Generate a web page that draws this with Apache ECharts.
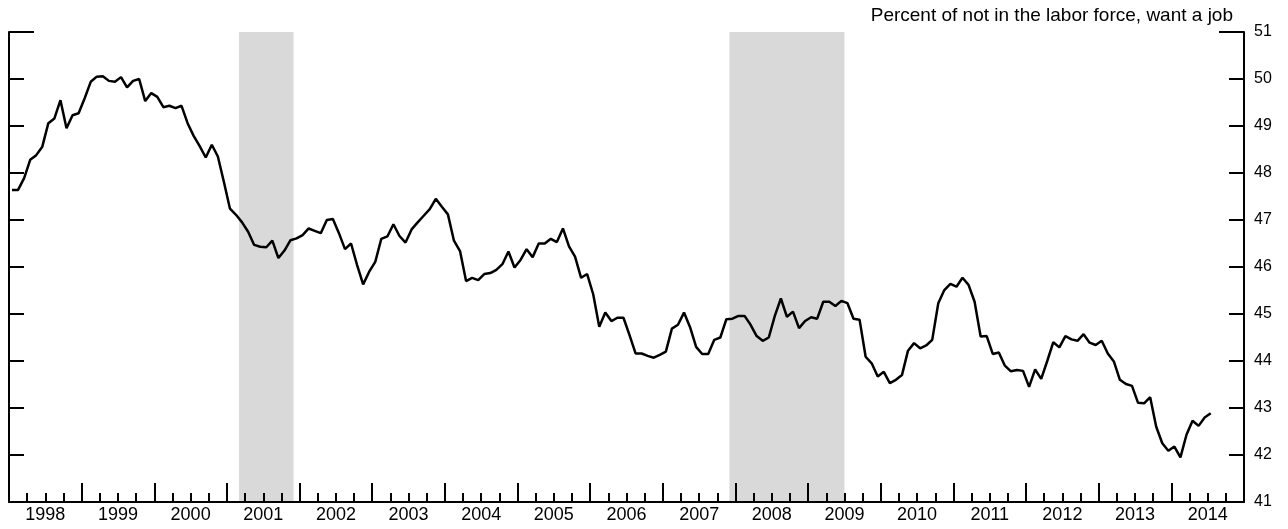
<!DOCTYPE html>
<html>
<head>
<meta charset="utf-8">
<script src="https://cdn.jsdelivr.net/npm/echarts@6/dist/echarts.min.js"></script>
<style>
html, body { margin: 0; padding: 0; background: #fff; }
#chart { width: 1288px; height: 529px; }
</style>
</head>
<body>
<div id="chart"></div>
<script>
// monthly, Jan 1998 .. Jul 2014
var startYear = 1998;
var wantJob = [
  47.64, 47.64, 47.89, 48.28, 48.38, 48.56, 49.06, 49.16, 49.55, 48.95, 49.23, 49.27,
  49.59, 49.94, 50.05, 50.06, 49.96, 49.94, 50.04, 49.82, 49.96, 50.00, 49.53, 49.70,
  49.62, 49.40, 49.43, 49.38, 49.43, 49.06, 48.79, 48.57, 48.33, 48.60, 48.35, 47.81,
  47.24, 47.11, 46.95, 46.75, 46.47, 46.43, 46.42, 46.56, 46.19, 46.35, 46.57, 46.61,
  46.68, 46.82, 46.77, 46.72, 47.00, 47.02, 46.72, 46.38, 46.50, 46.04, 45.63, 45.90,
  46.11, 46.60, 46.65, 46.91, 46.66, 46.52, 46.80, 46.95, 47.09, 47.23, 47.45, 47.28,
  47.12, 46.56, 46.34, 45.70, 45.77, 45.72, 45.85, 45.87, 45.94, 46.06, 46.33, 45.99,
  46.15, 46.38, 46.21, 46.50, 46.50, 46.60, 46.53, 46.82, 46.44, 46.22, 45.77, 45.85,
  45.42, 44.73, 45.03, 44.85, 44.92, 44.92, 44.55, 44.16, 44.16, 44.11, 44.07, 44.13,
  44.20, 44.69, 44.77, 45.03, 44.72, 44.30, 44.15, 44.15, 44.45, 44.50, 44.89, 44.90,
  44.96, 44.96, 44.77, 44.53, 44.43, 44.50, 44.96, 45.33, 44.94, 45.05, 44.70, 44.85,
  44.93, 44.90, 45.26, 45.26, 45.17, 45.28, 45.23, 44.90, 44.88, 44.09, 43.95, 43.67,
  43.77, 43.53, 43.60, 43.70, 44.22, 44.38, 44.27, 44.33, 44.45, 45.23, 45.51, 45.64,
  45.58, 45.77, 45.62, 45.26, 44.52, 44.53, 44.15, 44.18, 43.90, 43.78, 43.81, 43.79,
  43.45, 43.82, 43.62, 44.00, 44.40, 44.29, 44.53, 44.46, 44.43, 44.57, 44.39, 44.34,
  44.43, 44.16, 43.99, 43.60, 43.51, 43.47, 43.11, 43.10, 43.23, 42.60, 42.25, 42.09,
  42.18, 41.95, 42.43, 42.73, 42.62, 42.80, 42.89
];
var yearLabels = ['1998','1999','2000','2001','2002','2003','2004','2005','2006','2007','2008','2009','2010','2011','2012','2013','2014'];
// recessions as [start year, start month (1-12), end year, end month]
var recessions = [
  [2001, 3, 2001, 11],
  [2007, 12, 2009, 6]
];
var yMin = 41, yMax = 51;
var unitLabel = 'Percent of not in the labor force, want a job';

var font = "'Liberation Sans', Arial, Helvetica, sans-serif";

var seriesData = wantJob.map(function (v, i) {
  return [startYear + (i + 0.5) / 12, v];
});
var bands = recessions.map(function (r) {
  return [{ xAxis: r[0] + (r[1] - 1) / 12 }, { xAxis: r[2] + r[3] / 12 }];
});

var axisLine = { show: true, lineStyle: { color: '#000', width: 2 } };

var myChart = echarts.init(document.getElementById('chart'), null, { renderer: 'canvas' });
var option = {
  animation: false,
  backgroundColor: '#fff',
  title: {
    text: unitLabel,
    right: 55,
    top: 6,
    padding: 0,
    textStyle: { fontFamily: font, fontSize: 19, fontWeight: 'normal', color: '#000' }
  },
  grid: { left: 9, right: 44, top: 32, bottom: 27, containLabel: false, outerBoundsMode: 'none' },
  xAxis: [
    {
      type: 'value',
      min: +yearLabels[0],
      max: +yearLabels[yearLabels.length - 1] + 1,
      interval: 1,
      position: 'bottom',
      z: 10,
      axisLine: axisLine,
      axisTick: { show: true, inside: true, length: 19, lineStyle: { color: '#000', width: 2 } },
      minorTick: { show: true, splitNumber: 4, length: 9, lineStyle: { color: '#000', width: 2 } },
      axisLabel: { show: false },
      splitLine: { show: false }
    },
    {
      type: 'category',
      data: yearLabels,
      boundaryGap: true,
      position: 'bottom',
      axisLine: { show: false },
      axisTick: { show: false },
      axisLabel: { interval: 0, margin: 4, fontFamily: font, fontSize: 18, color: '#000' },
      splitLine: { show: false }
    }
  ],
  yAxis: [
    {
      type: 'value', position: 'right', min: yMin, max: yMax, interval: 1, z: 10,
      axisLine: axisLine,
      axisTick: { show: true, inside: true, length: 15, lineStyle: { color: '#000', width: 2 } },
      axisLabel: { margin: 10, fontFamily: font, fontSize: 16, color: '#000' },
      splitLine: { show: false }
    },
    {
      type: 'value', position: 'left', min: yMin, max: yMax, interval: 1, z: 10,
      axisLine: axisLine,
      axisTick: { show: true, inside: true, length: 15, lineStyle: { color: '#000', width: 2 } },
      axisLabel: { show: false },
      splitLine: { show: false }
    },
    {
      type: 'value', position: 'right', min: yMin, max: yMax, interval: yMax - yMin, z: 10,
      axisLine: { show: false },
      axisTick: { show: true, inside: true, length: 25, lineStyle: { color: '#000', width: 2 } },
      axisLabel: { show: false },
      splitLine: { show: false }
    },
    {
      type: 'value', position: 'left', min: yMin, max: yMax, interval: yMax - yMin, z: 10,
      axisLine: { show: false },
      axisTick: { show: true, inside: true, length: 25, lineStyle: { color: '#000', width: 2 } },
      axisLabel: { show: false },
      splitLine: { show: false }
    }
  ],
  series: [
    {
      type: 'line',
      xAxisIndex: 0,
      yAxisIndex: 0,
      data: seriesData,
      showSymbol: false,
      lineStyle: { color: '#000', width: 2.5 },
      z: 5,
      markArea: {
        silent: true,
        itemStyle: { color: '#d9d9d9' },
        data: bands
      }
    }
  ]
};
myChart.setOption(option);
</script>
</body>
</html>
